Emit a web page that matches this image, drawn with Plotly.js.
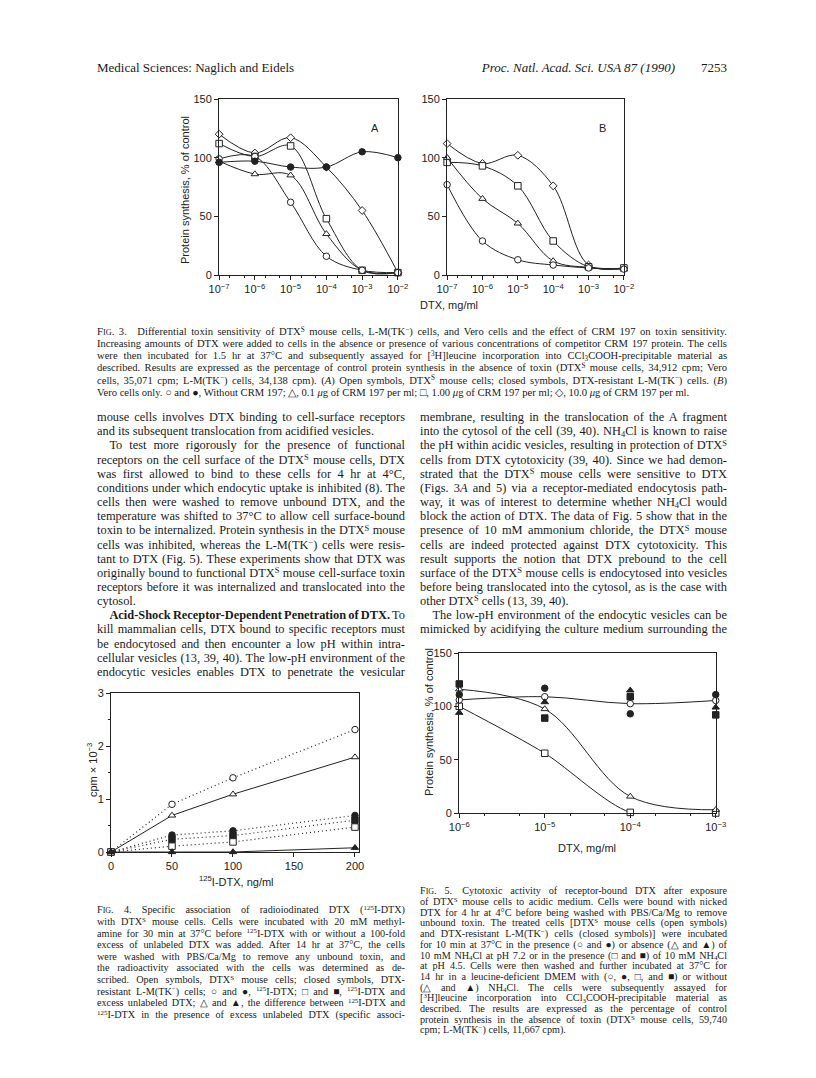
<!DOCTYPE html>
<html lang="en">
<head>
<meta charset="UTF-8">
<title>Naglich and Eidels, PNAS 87 (1990) 7253</title>
<script src="https://cdn.plot.ly/plotly-3.0.1.min.js"></script>
<style>
    body { margin: 0; background: white; }
    #page { position: relative; width: 816px; height: 1078px; overflow: hidden; background: white; }
    #plot { position: absolute; left: 0; top: 0; width: 816px; height: 1078px; }
    .ln {
        position: absolute; white-space: nowrap; line-height: 1;
        font-family: "Liberation Serif", "Times New Roman", serif; color: #1a1a1a;
    }
    .ln sup, .ln sub { font-size: 68%; line-height: 1; vertical-align: baseline; position: relative; }
    .ln sup { top: -0.45em; }
    .ln sub { top: 0.2em; }
    .sc { font-size: 78%; }
</style>
</head>
<body>
<div id="page">
    <div id="plot"></div>
</div>

<script>
    // ---- Fig. 3: protein synthesis (% of control) vs DTX (mg/ml)
    const doses3 = [1e-7, 1e-6, 1e-5, 1e-4, 1e-3, 1e-2];
    const doseTicks3 = ['10<sup>−7</sup>', '10<sup>−6</sup>', '10<sup>−5</sup>', '10<sup>−4</sup>', '10<sup>−3</sup>', '10<sup>−2</sup>'];
    // panel A
    const a_mouseNoCrm = [99, 101, 62, 16, 4, 2];
    const a_lmNoCrm = [96, 97, 92, 92, 105, 100];
    const a_crm01 = [97, 86, 85, 35, 4, 2];
    const a_crm1 = [112, 101, 110, 48, 4, 2];
    const a_crm10 = [120, 104, 117, 92, 55, 2];
    // panel B (Vero)
    const b_noCrm = [77, 29, 13, 8.5, 6, 5];
    const b_crm01 = [100, 65, 44, 12, 6.5, 5];
    const b_crm1 = [96, 93, 76, 29, 7, 6];
    const b_crm10 = [112, 95, 102, 76, 8.5, 6];

    // ---- Fig. 4: cpm x 10^-3 vs 125I-DTX (ng/ml)
    const conc4 = [0, 50, 100, 200];
    const f4_mouseTotal = [0, 0.90, 1.40, 2.31];
    const f4_mouseExcess = [0, 0.11, 0.19, 0.47];
    const f4_mouseSpecific = [0, 0.69, 1.09, 1.79];
    const f4_lmTotal = [0, 0.32, 0.40, 0.69];
    const f4_lmExcess = [0, 0.24, 0.31, 0.60];
    const f4_lmSpecific = [0, 0, 0, 0.08];

    // ---- Fig. 5: protein synthesis (% of control) vs DTX (mg/ml)
    const doses5 = [1e-6, 1e-5, 1e-4, 1e-3];
    const doseTicks5 = ['10<sup>−6</sup>', '10<sup>−5</sup>', '10<sup>−4</sup>', '10<sup>−3</sup>'];
    const f5_mouseNH4pH72 = [106, 109, 102.5, 105.5];
    const f5_mouseNoNH4 = [116, 97.5, 15.5, 3];
    const f5_mouseNH4pH45 = [100, 56, 0.6, 0];
    const f5_lmNH4pH72 = [111, 117, 93, 111];
    const f5_lmNoNH4 = [94, 104, 115, 99];
    const f5_lmNH4pH45 = [121, 89, 109, 92];

    const ink = '#222';
    const sans = 'Liberation Sans, Arial, sans-serif';
    const tickFont = {family: sans, size: 11, color: ink};

    function px(x) { return x / 816; }
    function py(y) { return 1 - y / 1078; }

    function decadeMinors(lo, hi) {
        const out = [];
        for (let e = lo; e < hi; e++) {
            out.push(2 * Math.pow(10, e), 5 * Math.pow(10, e));
        }
        return out;
    }

    function baseAxis(extra) {
        return Object.assign({
            showline: true, mirror: true, linecolor: ink, linewidth: 1,
            ticks: 'outside', ticklen: 4, tickwidth: 1, tickcolor: ink,
            showgrid: false, zeroline: false, tickfont: tickFont, fixedrange: true
        }, extra);
    }

    function series(x, y, sym, filled, axes, line) {
        return {
            x: x, y: y, xaxis: axes[0], yaxis: axes[1], type: 'scatter',
            mode: line ? 'lines+markers' : 'markers',
            line: Object.assign({color: ink, width: 1, shape: 'spline', smoothing: 1}, line || {}),
            marker: {symbol: sym, size: sym === 'diamond' ? 6 : 6.5,
                     color: filled ? ink : 'white', line: {color: ink, width: 1}},
            cliponaxis: false, showlegend: false, hoverinfo: 'skip'
        };
    }

    const A = ['x', 'y'], B = ['x2', 'y2'], F4 = ['x3', 'y3'], F5 = ['x4', 'y4'];
    const dotted = {shape: 'linear', dash: '1px,3px', width: 1.2};
    const straight = {shape: 'linear'};

    const traces = [
        series(doses3, a_crm10, 'diamond', false, A, {}),
        series(doses3, a_crm1, 'square', false, A, {}),
        series(doses3, a_crm01, 'triangle-up', false, A, {}),
        series(doses3, a_mouseNoCrm, 'circle', false, A, {}),
        series(doses3, a_lmNoCrm, 'circle', true, A, {}),

        series(doses3, b_crm10, 'diamond', false, B, {}),
        series(doses3, b_crm1, 'square', false, B, {}),
        series(doses3, b_crm01, 'triangle-up', false, B, {}),
        series(doses3, b_noCrm, 'circle', false, B, {}),

        series(conc4, f4_mouseTotal, 'circle', false, F4, dotted),
        series(conc4, f4_lmTotal, 'circle', true, F4, dotted),
        series(conc4, f4_lmExcess, 'square', true, F4, dotted),
        series(conc4, f4_mouseExcess, 'square', false, F4, dotted),
        series(conc4, f4_mouseSpecific, 'triangle-up', false, F4, straight),
        series(conc4, f4_lmSpecific, 'triangle-up', true, F4, straight),

        series(doses5, f5_mouseNH4pH45, 'square', false, F5, {smoothing: 0.8}),
        series(doses5, f5_mouseNoNH4, 'triangle-up', false, F5, {}),
        series(doses5, f5_mouseNH4pH72, 'circle', false, F5, {}),
        series(doses5, f5_lmNH4pH72, 'circle', true, F5, null),
        series(doses5, f5_lmNoNH4, 'triangle-up', true, F5, null),
        series(doses5, f5_lmNH4pH45, 'square', true, F5, null)
    ];

    const pctTicks = {range: [0, 150], tickvals: [0, 50, 100, 150]};

    function note(text, x, y, extra) {
        return Object.assign({
            text: text, x: px(x), y: py(y), xref: 'paper', yref: 'paper',
            showarrow: false, font: {family: sans, size: 11, color: ink},
            xanchor: 'center', yanchor: 'middle'
        }, extra || {});
    }

    // log ranges padded a hair so the end points are not dropped
    const layout = {
        width: 816, height: 1078,
        margin: {l: 0, r: 0, t: 0, b: 0},
        paper_bgcolor: 'rgba(0,0,0,0)', plot_bgcolor: 'rgba(0,0,0,0)',
        showlegend: false,
        xaxis: baseAxis({type: 'log', range: [-7.003, -1.997], domain: [px(219), px(398)], anchor: 'y',
            tickvals: doses3, ticktext: doseTicks3,
            minor: {tickvals: decadeMinors(-7, -2), ticks: 'outside', ticklen: 2, tickcolor: ink}}),
        yaxis: baseAxis(Object.assign({domain: [py(275), py(99)], anchor: 'x'}, pctTicks)),
        xaxis2: baseAxis({type: 'log', range: [-7.003, -1.997], domain: [px(447), px(624)], anchor: 'y2',
            tickvals: doses3, ticktext: doseTicks3,
            minor: {tickvals: decadeMinors(-7, -2), ticks: 'outside', ticklen: 2, tickcolor: ink}}),
        yaxis2: baseAxis(Object.assign({domain: [py(275), py(99)], anchor: 'x2'}, pctTicks)),
        xaxis3: baseAxis({range: [0, 203.3], domain: [px(111), px(359)], anchor: 'y3',
            tickvals: [0, 50, 100, 150, 200]}),
        yaxis3: baseAxis({range: [0, 3], domain: [py(852), py(693)], anchor: 'x3',
            tickvals: [0, 1, 2, 3],
            minor: {tickvals: [0.5, 1.5, 2.5], ticks: 'outside', ticklen: 2, tickcolor: ink}}),
        xaxis4: baseAxis({type: 'log', range: [-6.003, -2.997], domain: [px(459), px(716)], anchor: 'y4',
            tickvals: doses5, ticktext: doseTicks5,
            minor: {tickvals: decadeMinors(-6, -3), ticks: 'outside', ticklen: 2, tickcolor: ink}}),
        yaxis4: baseAxis(Object.assign({domain: [py(813), py(653)], anchor: 'x4'}, pctTicks)),
        annotations: [
            note('Protein synthesis, % of control', 185, 190, {textangle: -90}),
            note('A', 375, 128),
            note('B', 602, 128),
            note('DTX, mg/ml', 449, 305),
            note('cpm × 10<sup>−3</sup>', 92, 770, {textangle: -90}),
            note('<sup>125</sup>I-DTX, ng/ml', 236, 881),
            note('Protein synthesis, % of control', 429, 722, {textangle: -90}),
            note('DTX, mg/ml', 587, 848)
        ]
    };

    Plotly.newPlot('plot', traces, layout, {displayModeBar: false, staticPlot: true});

    // ---- page text, one entry per printed line
    const SUP_S = 'DTX<sup>S</sup>';
    const TK = 'L-M(TK<sup>−</sup>)';
    const IND = '&emsp;';
    const FIG = function (n) { return 'F<span class="sc">IG</span>. ' + n + '.&emsp;'; };

    const fig3Caption = [
        FIG(3) + 'Differential toxin sensitivity of ' + SUP_S + ' mouse cells, ' + TK + ' cells, and Vero cells and the effect of CRM 197 on toxin sensitivity.',
        'Increasing amounts of DTX were added to cells in the absence or presence of various concentrations of competitor CRM 197 protein. The cells',
        'were then incubated for 1.5 hr at 37°C and subsequently assayed for [<sup>3</sup>H]leucine incorporation into CCl<sub>3</sub>COOH-precipitable material as',
        'described. Results are expressed as the percentage of control protein synthesis in the absence of toxin (' + SUP_S + ' mouse cells, 34,912 cpm; Vero',
        'cells, 35,071 cpm; ' + TK + ' cells, 34,138 cpm). (<i>A</i>) Open symbols, ' + SUP_S + ' mouse cells; closed symbols, DTX-resistant ' + TK + ' cells. (<i>B</i>)',
        'Vero cells only. ○ and ●, Without CRM 197; △, 0.1 <i>μ</i>g of CRM 197 per ml; □, 1.00 <i>μ</i>g of CRM 197 per ml; ◇, 10.0 <i>μ</i>g of CRM 197 per ml.'
    ];
    const leftBody = [
        'mouse cells involves DTX binding to cell-surface receptors',
        'and its subsequent translocation from acidified vesicles.|',
        IND + 'To test more rigorously for the presence of functional',
        'receptors on the cell surface of the ' + SUP_S + ' mouse cells, DTX',
        'was first allowed to bind to these cells for 4 hr at 4°C,',
        'conditions under which endocytic uptake is inhibited (8). The',
        'cells then were washed to remove unbound DTX, and the',
        'temperature was shifted to 37°C to allow cell surface-bound',
        'toxin to be internalized. Protein synthesis in the ' + SUP_S + ' mouse',
        'cells was inhibited, whereas the ' + TK + ' cells were resis-',
        'tant to DTX (Fig. 5). These experiments show that DTX was',
        'originally bound to functional ' + SUP_S + ' mouse cell-surface toxin',
        'receptors before it was internalized and translocated into the',
        'cytosol.|',
        IND + '<b>Acid-Shock Receptor-Dependent Penetration of DTX.</b> To',
        'kill mammalian cells, DTX bound to specific receptors must',
        'be endocytosed and then encounter a low pH within intra-',
        'cellular vesicles (13, 39, 40). The low-pH environment of the',
        'endocytic vesicles enables DTX to penetrate the vesicular'
    ];
    const rightBody = [
        'membrane, resulting in the translocation of the A fragment',
        'into the cytosol of the cell (39, 40). NH<sub>4</sub>Cl is known to raise',
        'the pH within acidic vesicles, resulting in protection of ' + SUP_S,
        'cells from DTX cytotoxicity (39, 40). Since we had demon-',
        'strated that the ' + SUP_S + ' mouse cells were sensitive to DTX',
        '(Figs. 3<i>A</i> and 5) via a receptor-mediated endocytosis path-',
        'way, it was of interest to determine whether NH<sub>4</sub>Cl would',
        'block the action of DTX. The data of Fig. 5 show that in the',
        'presence of 10 mM ammonium chloride, the ' + SUP_S + ' mouse',
        'cells are indeed protected against DTX cytotoxicity. This',
        'result supports the notion that DTX prebound to the cell',
        'surface of the ' + SUP_S + ' mouse cells is endocytosed into vesicles',
        'before being translocated into the cytosol, as is the case with',
        'other ' + SUP_S + ' cells (13, 39, 40).|',
        IND + 'The low-pH environment of the endocytic vesicles can be',
        'mimicked by acidifying the culture medium surrounding the'
    ];
    const fig4Caption = [
        FIG(4) + 'Specific association of radioiodinated DTX (<sup>125</sup>I-DTX)',
        'with ' + SUP_S + ' mouse cells. Cells were incubated with 20 mM methyl-',
        'amine for 30 min at 37°C before <sup>125</sup>I-DTX with or without a 100-fold',
        'excess of unlabeled DTX was added. After 14 hr at 37°C, the cells',
        'were washed with PBS/Ca/Mg to remove any unbound toxin, and',
        'the radioactivity associated with the cells was determined as de-',
        'scribed. Open symbols, ' + SUP_S + ' mouse cells; closed symbols, DTX-',
        'resistant ' + TK + ' cells; ○ and ●, <sup>125</sup>I-DTX; □ and ■, <sup>125</sup>I-DTX and',
        'excess unlabeled DTX; △ and ▲, the difference between <sup>125</sup>I-DTX and',
        '<sup>125</sup>I-DTX in the presence of excess unlabeled DTX (specific associ-'
    ];
    const fig5Caption = [
        FIG(5) + 'Cytotoxic activity of receptor-bound DTX after exposure',
        'of ' + SUP_S + ' mouse cells to acidic medium. Cells were bound with nicked',
        'DTX for 4 hr at 4°C before being washed with PBS/Ca/Mg to remove',
        'unbound toxin. The treated cells [' + SUP_S + ' mouse cells (open symbols)',
        'and DTX-resistant ' + TK + ' cells (closed symbols)] were incubated',
        'for 10 min at 37°C in the presence (○ and ●) or absence (△ and ▲) of',
        '10 mM NH<sub>4</sub>Cl at pH 7.2 or in the presence (□ and ■) of 10 mM NH<sub>4</sub>Cl',
        'at pH 4.5. Cells were then washed and further incubated at 37°C for',
        '14 hr in a leucine-deficient DMEM with (○, ●, □, and ■) or without',
        '(△ and ▲) NH<sub>4</sub>Cl. The cells were subsequently assayed for',
        '[<sup>3</sup>H]leucine incorporation into CCl<sub>3</sub>COOH-precipitable material as',
        'described. The results are expressed as the percentage of control',
        'protein synthesis in the absence of toxin (' + SUP_S + ' mouse cells, 59,740',
        'cpm; ' + TK + ' cells, 11,667 cpm).|'
    ];

    const page = document.getElementById('page');

    function addLine(html, left, yMid, size) {
        const el = document.createElement('div');
        el.className = 'ln';
        el.style.left = left + 'px';
        el.style.top = (yMid - size * 0.55) + 'px';
        el.style.fontSize = size + 'px';
        el.style.height = size + 'px';
        el.innerHTML = html;
        page.appendChild(el);
        return el;
    }

    // a trailing "|" marks the last line of a paragraph (not stretched)
    function block(lines, left, width, y0, step, size, lastFlush) {
        lines.forEach(function (raw, i) {
            const last = raw.endsWith('|') || (lastFlush && i === lines.length - 1);
            const el = addLine(raw.replace(/\|$/, ''), left, y0 + i * step, size);
            const w = el.getBoundingClientRect().width;
            const spaces = (el.textContent.match(/[ \u00a0]/g) || []).length;
            if (spaces && (!last || w > width)) {
                el.style.wordSpacing = ((width - w) / spaces) + 'px';
            }
        });
    }

    function layoutText() {
        addLine('Medical Sciences: Naglich and Eidels', 97, 68, 13);
        const right = addLine('<i>Proc. Natl. Acad. Sci. USA 87 (1990)</i>&emsp;&emsp;7253', 0, 68, 13);
        right.style.left = (727 - right.getBoundingClientRect().width) + 'px';

        block(fig3Caption, 97, 630, 333, 12.1, 10.6, true);
        block(leftBody, 97, 308, 418, 14.15, 12.4, false);
        block(rightBody, 420, 307, 418, 14.15, 12.4, false);
        block(fig4Caption, 97, 308, 911, 11.6, 10.2, false);
        block(fig5Caption, 420, 307, 892, 10.7, 10.2, false);
    }

    if (document.fonts && document.fonts.ready) {
        document.fonts.ready.then(layoutText);
    } else {
        layoutText();
    }
</script>
</body>
</html>
